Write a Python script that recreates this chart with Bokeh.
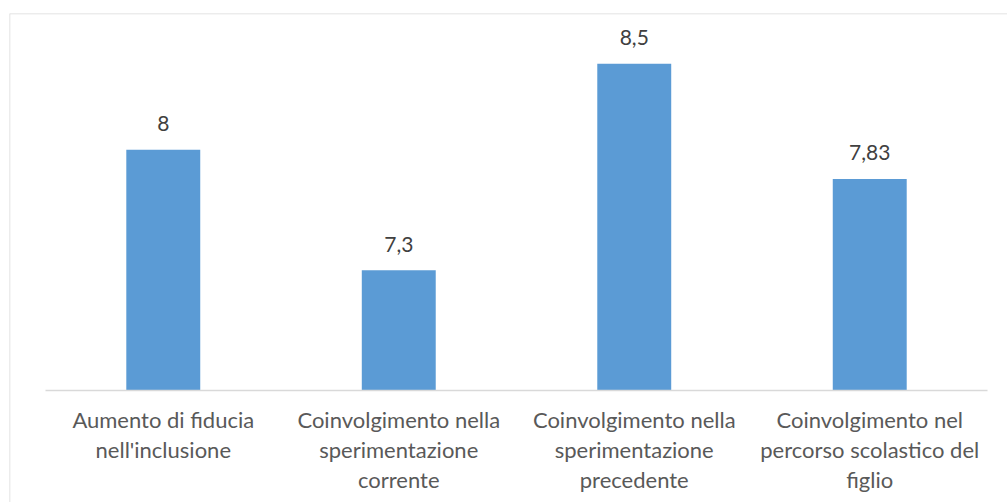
from bokeh.plotting import figure
from bokeh.models import LinearAxis, FixedTicker, Range1d, Span, ColumnDataSource
from bokeh.core.properties import value
from bokeh.embed import file_html
from bokeh.resources import INLINE

# Data
categories = [
    "Aumento di fiducia\nnell'inclusione",
    "Coinvolgimento nella\nsperimentazione\ncorrente",
    "Coinvolgimento nella\nsperimentazione\nprecedente",
    "Coinvolgimento nel\npercorso scolastico del\nfiglio",
]
scores = [8.0, 7.3, 8.5, 7.83]
axis_min = 6.6

positions = [i + 0.5 for i in range(len(categories))]
labels = [f"{v:g}".replace(".", ",") for v in scores]

src = ColumnDataSource(dict(x=positions, top=scores, label=labels))

FONT = "Lato"

p = figure(
    width=1007, height=502,
    x_range=Range1d(-0.153, 4.085),
    y_range=Range1d(5.949, 8.792),
    x_axis_type=None, y_axis_type=None,
    output_backend="svg", toolbar_location=None,
    min_border_left=9, min_border_top=13, min_border_right=0, min_border_bottom=0,
    background_fill_color="white", border_fill_color="white",
    outline_line_color=None,
)
p.xgrid.visible = False
p.ygrid.visible = False

# chart border (left and top)
p.add_layout(Span(location=p.x_range.start, dimension="height",
                  line_color="#D9D9D9", line_width=1.5))
p.add_layout(Span(location=p.y_range.end, dimension="width",
                  line_color="#D9D9D9", line_width=1.5))

p.vbar(x="x", top="top", bottom=axis_min, width=0.314, source=src,
       fill_color="#5B9BD5", line_color=None)

p.text(x="x", y="top", text="label", source=src,
       text_align="center", text_baseline="alphabetic", y_offset=-26,
       text_font=value(FONT), text_font_size="21px", text_color="#404040")

# category axis on the baseline
xaxis = LinearAxis(
    ticker=FixedTicker(ticks=positions),
    major_label_overrides={pos: cat for pos, cat in zip(positions, categories)},
    fixed_location=axis_min,
    bounds=(0, len(categories)),
    axis_line_color="#D9D9D9", axis_line_width=1.5,
    major_tick_line_color=None, minor_tick_line_color=None,
    major_label_text_font=FONT, major_label_text_font_size="22px",
    major_label_text_color="#595959", major_label_text_line_height=1.12,
    major_label_standoff=9,
)
p.add_layout(xaxis, "below")

open("out.html", "w").write(file_html(p, INLINE))
